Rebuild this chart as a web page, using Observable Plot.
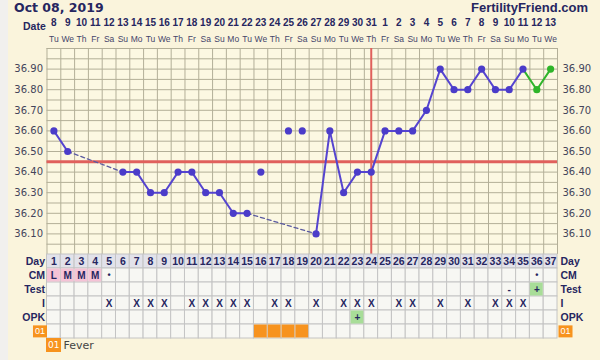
<!DOCTYPE html>
<html><head><meta charset="utf-8">
<script src="https://cdn.jsdelivr.net/npm/d3@7"></script>
<script src="https://cdn.jsdelivr.net/npm/@observablehq/plot@0.6"></script>
<style>
body{margin:0;background:#faf4dc;width:600px;height:360px;overflow:hidden;position:relative;font-family:"DejaVu Sans",Verdana,sans-serif;}
#strip{position:absolute;left:0;top:0;width:8px;height:360px;background:#f1f0ee}
#title{position:absolute;left:14px;top:0;line-height:13px;font:bold 12.5px "DejaVu Sans";color:#262660}
#brand{position:absolute;right:12px;top:0;line-height:13px;font:bold 13px "Liberation Sans";color:#262660}
#chart{position:absolute;left:0;top:0}
#table{position:absolute;left:0;top:254px}
#legend{position:absolute;left:46px;top:338px;font:11px "DejaVu Sans";color:#444;display:flex;align-items:center}
.badge{background:#f7931e;color:#fff;font-size:9px;padding:1px 2px;margin-right:2px;line-height:12px}
</style></head>
<body>
<div id="strip"></div>
<div id="title">Oct 08, 2019</div>
<div id="brand">FertilityFriend.com</div>
<div id="chart"></div>
<div id="table"></div>
<div id="legend"><span class="badge">01</span>Fever</div>
<script>
// ---------- data ----------
const days = [1,2,3,4,5,6,7,8,9,10,11,12,13,14,15,16,17,18,19,20,21,22,23,24,25,26,27,28,29,30,31,32,33,34,35,36,37];
const dateLabels = ["8","9","10","11","12","13","14","15","16","17","18","19","20","21","22","23","24","25","26","27","28","29","30","31","1","2","3","4","5","6","7","8","9","10","11","12","13"];
const weekdays = ["Tu","We","Th","Fr","Sa","Su","Mo","Tu","We","Th","Fr","Sa","Su","Mo","Tu","We","Th","Fr","Sa","Su","Mo","Tu","We","Th","Fr","Sa","Su","Mo","Tu","We","Th","Fr","Sa","Su","Mo","Tu","We"];
const temps = [36.60,36.50,null,null,null,36.40,36.40,36.30,36.30,36.40,36.40,36.30,36.30,36.20,36.20,36.40,null,36.60,36.60,36.10,36.60,36.30,36.40,36.40,36.60,36.60,36.60,36.70,36.90,36.80,36.80,36.90,36.80,36.80,36.90,36.80,36.90];
const excludedDays = [16,18,19];
const greenDays = [36,37];
const coverline = 36.45;
const ovulationDay = 24;
const tempTicks = [36.10,36.20,36.30,36.40,36.50,36.60,36.70,36.80,36.90];
const gridTemps = [36.00,36.05,36.10,36.15,36.20,36.25,36.30,36.35,36.40,36.45,36.50,36.55,36.60,36.65,36.70,36.75,36.80,36.85,36.90,36.95,37.00];

const rows = ["Day","CM","Test","I","OPK","01"];
const cmDays = [1,2,3,4,5,36];
const cmText = ["L","M","M","M","•","•"];
const mensesDays = [1,2,3,4];
const testDays = [34,36];
const testText = ["-","+"];
const testPositive = [36];
const iDays = [5,7,8,9,11,12,13,14,15,17,18,20,22,23,24,26,27,29,31,33,34,35];
const opkDays = [23];
const opkText = ["+"];
const feverDays = [16,17,18,19];

// ---------- styles ----------
const navy = "#262660";
const dotBlue = "#4b3cc9";
const lineBlue = "#5544d0";
const green = "#2fb52a";
const red = "#e0605c";
const gridCol = "#b3af98";
const font = "DejaVu Sans";
const narrow = "Liberation Sans";

// ---------- derived ----------
const pts = days.map((d,i)=>({day:d, temp:temps[i], excluded:excludedDays.includes(d), green:greenDays.includes(d)})).filter(p=>p.temp!=null);
const inc = pts.filter(p=>!p.excluded);
const segs = [];
for (let i=1;i<inc.length;i++){
  const a=inc[i-1], b=inc[i];
  const type = b.day-a.day>1 ? "dash" : (b.green ? "green" : "solid");
  segs.push({id:i,type,day:a.day,temp:a.temp},{id:i,type,day:b.day,temp:b.temp});
}
const boundaries = days.map(d=>d-0.5).concat([days[days.length-1]+0.5]);
const xDomain = [days[0]-0.5, days[days.length-1]+0.5];

const chart = Plot.plot({
  width:600, height:254, marginLeft:46.5, marginRight:43, marginTop:48, marginBottom:0,
  style:{fontFamily:font, background:"transparent", overflow:"visible"},
  x:{domain:xDomain, axis:null},
  y:{domain:[36,37], axis:null},
  marks:[
    Plot.frame({fill:"#fcf8e2", stroke:null}),
    Plot.ruleY(gridTemps, {stroke:gridCol, strokeWidth:1}),
    Plot.ruleX(boundaries, {stroke:gridCol, strokeWidth:1}),
    Plot.ruleY([coverline], {stroke:red, strokeWidth:3}),
    Plot.ruleX([ovulationDay], {stroke:red, strokeWidth:2}),
    Plot.line(segs.filter(s=>s.type==="dash"), {x:"day", y:"temp", z:"id", stroke:"#5a5aa0", strokeWidth:1.3, strokeDasharray:"4,3"}),
    Plot.line(segs.filter(s=>s.type==="solid"), {x:"day", y:"temp", z:"id", stroke:lineBlue, strokeWidth:2}),
    Plot.line(segs.filter(s=>s.type==="green"), {x:"day", y:"temp", z:"id", stroke:green, strokeWidth:2}),
    Plot.dot(pts, {x:"day", y:"temp", r:3.6, fill:d=>d.green?green:dotBlue, stroke:null}),
    Plot.axisY(tempTicks, {anchor:"left", tickSize:0, tickPadding:4, tickFormat:d=>d.toFixed(2), label:null, fontSize:10, fill:"#44445a"}),
    Plot.axisY(tempTicks, {anchor:"right", tickSize:0, tickPadding:5, tickFormat:d=>d.toFixed(2), label:null, fontSize:10, fill:"#44445a"}),
    Plot.axisX(days, {anchor:"top", tickSize:0, tickPadding:23, tickFormat:d=>dateLabels[d-1], label:null, fontSize:10, fontWeight:"bold", fill:navy, fontFamily:narrow}),
    Plot.axisX(days, {anchor:"top", tickSize:0, tickPadding:7, tickFormat:d=>weekdays[d-1], label:null, fontSize:8.5, fill:"#44446a", fontFamily:narrow}),
    Plot.text(["Date"], {frameAnchor:"top-left", dx:-24, dy:-26, text:d=>d, fontWeight:"bold", fontSize:10.5, fill:navy, fontFamily:narrow})
  ]
});
document.getElementById("chart").append(chart);

// ---------- table ----------
const cells = [];
for (const r of rows) for (const d of days) cells.push({row:r, day:d});
const hl = [
  ...mensesDays.map(d=>({row:"CM", day:d, fill:"#f5c3d6"})),
  ...testPositive.map(d=>({row:"Test", day:d, fill:"#a8dd98"})),
  ...opkDays.map(d=>({row:"OPK", day:d, fill:"#a8dd98"})),
  ...feverDays.map(d=>({row:"01", day:d, fill:"#f7931e"}))
];
const texts = [
  ...days.map(d=>({row:"Day", day:d, t:String(d), size:10.5})),
  ...cmDays.map((d,i)=>({row:"CM", day:d, t:cmText[i], size:cmText[i]==="•"?9:10})),
  ...testDays.map((d,i)=>({row:"Test", day:d, t:testText[i], size:10})),
  ...iDays.map(d=>({row:"I", day:d, t:"X", size:10})),
  ...opkDays.map((d,i)=>({row:"OPK", day:d, t:opkText[i], size:10}))
];
const table = Plot.plot({
  width:600, height:84, marginLeft:46.5, marginRight:43, marginTop:0, marginBottom:0,
  style:{fontFamily:narrow, background:"transparent", overflow:"visible"},
  x:{domain:xDomain, axis:null},
  y:{domain:rows, padding:0, axis:null},
  marks:[
    Plot.barX(cells, {x1:d=>d.day-0.5, x2:d=>d.day+0.5, y:"row", fill:d=>d.row==="Day"?"#e2e2ea":"#f7f7f3", stroke:"#c4c4c4", strokeWidth:1, inset:0}),
    Plot.barX(hl, {x1:d=>d.day-0.5, x2:d=>d.day+0.5, y:"row", fill:"fill", inset:0.5}),
    Plot.text(texts, {x:"day", y:"row", text:"t", fontWeight:"bold", fontSize:d=>d.size, fill:navy}),
    Plot.axisY({anchor:"left", tickSize:0, tickPadding:2, label:null, fontSize:10.5, fontWeight:"bold", fill:navy}),
    Plot.axisY({anchor:"right", tickSize:0, tickPadding:3, label:null, fontSize:10.5, fontWeight:"bold", fill:navy})
  ]
});
document.getElementById("table").append(table);
// orange badge behind the "01" row labels
d3.select(table).selectAll("text").filter(function(){return this.textContent==="01";}).each(function(){
  d3.select(this).attr("fill","#fff").attr("font-weight","normal").attr("font-size",9);
  const b=this.getBBox();
  const tr=this.getAttribute("transform");
  const self=this;
  d3.select(this.parentNode).insert("rect", function(){return self;})
    .attr("transform", tr).attr("x",b.x-2).attr("y",b.y-1).attr("width",b.width+4).attr("height",b.height+2).attr("fill","#f7931e");
});
</script>
</body></html>
